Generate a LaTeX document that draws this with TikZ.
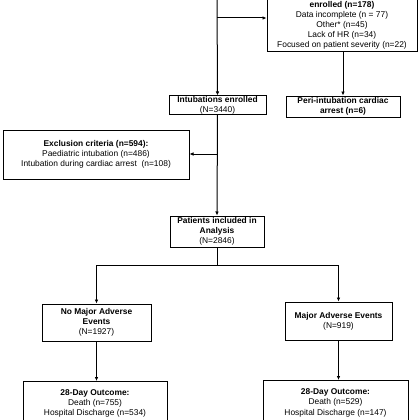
\documentclass[tikz,border=0pt]{standalone}
\usepackage{fontspec}
\setmainfont{Liberation Sans}
\usetikzlibrary{arrows.meta}
\newcommand{\myfs}{\fontsize{8.4}{10.3}\selectfont}
\begin{document}
\begin{tikzpicture}[x=1pt,y=-1pt,
  box/.style={draw=black, line width=1pt, inner sep=0pt, align=center, font=\myfs},
  txt/.style={inner sep=0pt, align=center, font=\myfs},
  ln/.style={draw=black, line width=1pt},
  arr/.style={ln, -{Latex[length=4pt,width=3.6pt]}}
]
\useasboundingbox (0,0) rectangle (420,420);

% top exclusion box (cut at top)
\node[box, anchor=south, minimum width=150pt, minimum height=80pt] (topbox) at (342,52) {};
\node[txt, anchor=south, font=\fontsize{8.4}{9.8}\selectfont] (toptext) at (342,49)
  {\textbf{enrolled (n=178)}\\Data incomplete (n = 77)\\Other* (n=45)\\Lack of HR (n=34)\\Focused on patient severity (n=22)};

\node[box, minimum width=97pt, minimum height=18pt] (intub) at (217.5,105)
  {\textbf{Intubations enrolled}\\(N=3440)};
\node[box, minimum width=114pt, minimum height=21pt] (peri) at (343,106.5)
  {\textbf{Peri-intubation cardiac}\\\textbf{arrest (n=6)}};
\node[box, minimum width=186pt, minimum height=49pt] (excl) at (96,154.5)
  {\textbf{Exclusion criteria (n=594):}\\Paediatric intubation (n=486)\\Intubation during cardiac arrest\ \ (n=108)};
\node[box, minimum width=94pt, minimum height=31pt] (pat) at (217,231.5)
  {\textbf{Patients included in}\\\textbf{Analysis}\\(N=2846)};
\node[box, minimum width=109pt, minimum height=37pt] (nomaj) at (96.5,322.5)
  {\textbf{No Major Adverse}\\\textbf{Events}\\(N=1927)};
\node[box, minimum width=107pt, minimum height=38pt] (maj) at (338.5,321)
  {\textbf{Major Adverse Events}\\(N=919)};

% outcome boxes (cut at bottom)
\node[box, anchor=north, minimum width=144pt, minimum height=60pt] (out1) at (95,381) {};
\node[txt, anchor=north] (out1t) at (95,389)
  {\textbf{28-Day Outcome:}\\Death (n=755)\\Hospital Discharge (n=534)};
\node[box, anchor=north, minimum width=145pt, minimum height=60pt] (out2) at (335.5,380) {};
\node[txt, anchor=north] (out2t) at (335.5,388.5)
  {\textbf{28-Day Outcome:}\\Death (n=529)\\Hospital Discharge (n=147)};

% connectors
\coordinate (topin) at (217,-5);
\coordinate (j1) at (217,18);
\coordinate (j2) at (217,154);
\coordinate (split) at (217,265);

\draw[arr] (topin) -- (intub.north);
\draw[arr] (j1) -- (j1 -| topbox.west);
\draw[arr] (topbox.south -| peri.north) -- (peri.north);
\draw[arr] (intub.south) -- (pat.north);
\draw[arr] (j2) -- (j2 -| excl.east);
\draw[ln] (pat.south) -- (split);
\draw[arr] (split) -| (nomaj.north);
\draw[arr] (split) -| (maj.north);
\draw[arr] (nomaj.south) -- (nomaj.south |- out1.north);
\draw[arr] (maj.south) -- (maj.south |- out2.north);
\end{tikzpicture}
\end{document}
